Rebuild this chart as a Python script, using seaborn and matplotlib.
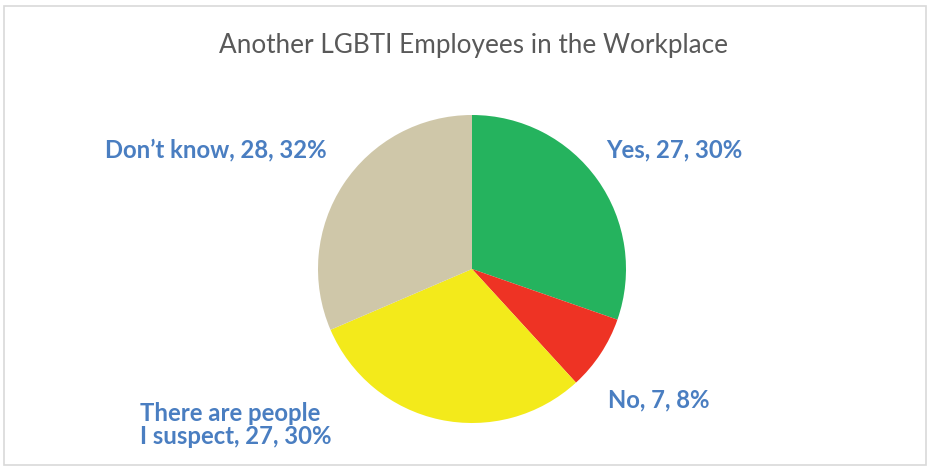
import matplotlib
matplotlib.use("Agg")
import matplotlib.pyplot as plt
import seaborn as sns
from matplotlib.patches import Rectangle

# data
categories = ["Yes", "No", "There are people\nI suspect", "Don\u2019t know"]
counts = [27, 7, 27, 28]
percents = ["30%", "8%", "30%", "32%"]
colors = ["#25B35E", "#EE3324", "#F3EA1B", "#CFC7A9"]

sns.set_theme(style="white")
plt.rcParams['font.family'] = ['Lato', 'DejaVu Sans']

W, H = 932, 474
fig = plt.figure(figsize=(W / 100, H / 100), dpi=100)
fig.patch.set_facecolor("white")

# light frame around the chart
fig.patches.append(Rectangle((4 / W, 1 - 465 / H), 922 / W, 459 / H,
                             transform=fig.transFigure, fill=False,
                             edgecolor="#D9D9D9", linewidth=1.2))

# pie axes: center (472, 269), radius 154 px
cx, cy, r = 472, 269, 154
ax = fig.add_axes([(cx - r) / W, 1 - (cy + r) / H, 2 * r / W, 2 * r / H])
ax.pie(counts, colors=colors, startangle=90, counterclock=False,
       radius=1, wedgeprops=dict(linewidth=0))
ax.set_xlim(-1, 1)
ax.set_ylim(-1, 1)
ax.set_aspect("auto")
ax.axis("off")

fig.text(474 / W, 1 - 46 / H, "Another LGBTI Employees in the Workplace",
         ha="center", va="center", fontsize=18.8, color="#595959")

labels = [f"{c}, {n}, {p}" for c, n, p in zip(categories, counts, percents)]
label_color = "#4A7EC1"
# label anchors in pixels (x, y, ha)
spots = [(606, 150, "left"), (608, 400, "left"), (140, 425, "left"), (327, 150, "right")]
for lab, (x, y, ha) in zip(labels, spots):
    fig.text(x / W, 1 - y / H, lab, ha=ha, va="center", fontsize=17.2,
             fontweight="bold", color=label_color, linespacing=1.05)

plt.savefig("out.png", dpi=100)
